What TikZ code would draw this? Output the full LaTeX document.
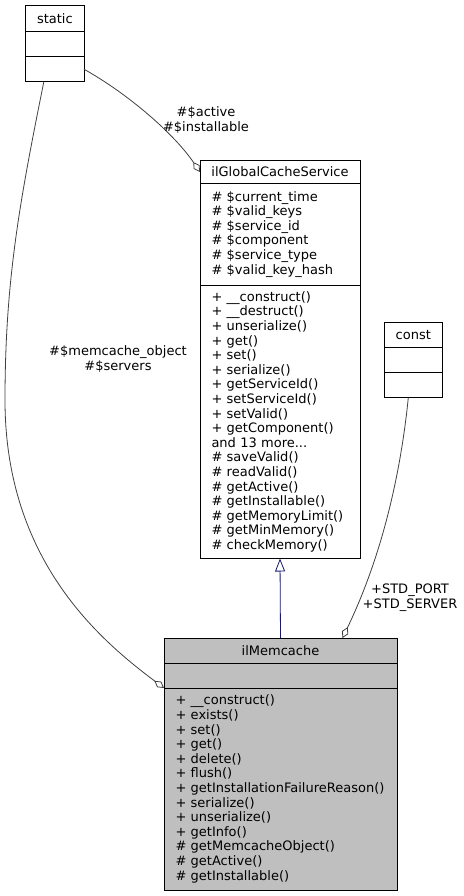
\documentclass[tikz,border=0pt]{standalone}
\usepackage{fontspec}
\setmainfont{DejaVu Sans}
\usetikzlibrary{positioning,arrows.meta}
\definecolor{edgegray}{HTML}{404040}
\definecolor{inhblue}{HTML}{191970}
\definecolor{memgray}{HTML}{BFBFBF}

\begin{document}
\begin{tikzpicture}[
    x=1pt, y=-1pt,
    every node/.style={font=\fontsize{13}{14.6}\selectfont, inner sep=0pt, outer sep=0pt},
    clsname/.style={draw, line width=0.9pt, align=center},
    clspart/.style={draw, line width=0.9pt, align=left, inner xsep=11.5pt},
    agg/.style={draw=edgegray, line width=0.8pt, -{Diamond[open,length=12pt,width=7pt]}},
    inh/.style={draw=inhblue, line width=0.8pt, -{Triangle[open,length=13pt,width=10pt]}}
]
    \useasboundingbox (0,0) rectangle (463,896);

    % static
    \node[clsname, minimum width=58.3pt, minimum height=26pt] (staticTitle) at (54.85,18.7) {static};
    \node[clspart, minimum width=58.3pt, minimum height=25pt, below=0pt of staticTitle] (staticAttr) {};
    \node[clspart, minimum width=58.3pt, minimum height=25pt, below=0pt of staticAttr] (staticMeth) {};

    % const
    \node[clsname, minimum width=58pt, minimum height=25pt] (constTitle) at (413.3,334.8) {const};
    \node[clspart, minimum width=58pt, minimum height=25.4pt, below=0pt of constTitle] (constAttr) {};
    \node[clspart, minimum width=58pt, minimum height=25pt, below=0pt of constAttr] (constMeth) {};

    % ilGlobalCacheService
    \node[clsname, minimum width=160pt, minimum height=23pt] (gcsTitle) at (280,172) {ilGlobalCacheService};
    \node[clspart, minimum width=160pt, minimum height=101.5pt, text width=137pt, below=0pt of gcsTitle] (gcsAttr)
        {\# \$current\_time\\\# \$valid\_keys\\\# \$service\_id\\\# \$component\\\# \$service\_type\\\# \$valid\_key\_hash};
    \node[clspart, minimum width=160pt, minimum height=273.5pt, text width=137pt, below=0pt of gcsAttr] (gcsMeth)
        {+ \_\_construct()\\+ \_\_destruct()\\+ unserialize()\\+ get()\\+ set()\\+ serialize()\\+ getServiceId()\\+ setServiceId()\\+ setValid()\\+ getComponent()\\and 13 more...\\\# saveValid()\\\# readValid()\\\# getActive()\\\# getInstallable()\\\# getMemoryLimit()\\\# getMinMemory()\\\# checkMemory()};

    % ilMemcache
    \node[clsname, fill=memgray, minimum width=233pt, minimum height=25pt] (memTitle) at (280.5,650.5) {ilMemcache};
    \node[clspart, fill=memgray, minimum width=233pt, minimum height=25pt, below=0pt of memTitle] (memAttr) {};
    \node[clspart, fill=memgray, minimum width=233pt, minimum height=202pt, text width=210pt, below=0pt of memAttr] (memMeth)
        {+ \_\_construct()\\+ exists()\\+ set()\\+ get()\\+ delete()\\+ flush()\\+ getInstallationFailureReason()\\+ serialize()\\+ unserialize()\\+ getInfo()\\\# getMemcacheObject()\\\# getActive()\\\# getInstallable()};

    % relations
    \draw[inh] (memTitle.north) -- (gcsMeth.south);
    \draw[agg] (staticMeth.east) .. controls (130,95) and (175,135) .. (gcsTitle.west);
    \draw[agg] ([xshift=-11pt]staticMeth.south) .. controls (20,200) and (5,280) .. (5,400)
        .. controls (5,560) and (100,640) .. (memAttr.south west);
    \draw[agg] ([xshift=-5pt]constMeth.south) .. controls (400,480) and (380,560) .. ([xshift=62pt]memTitle.north);

    \node[align=center] (activeLbl) at (206,120) {\#\$active\\\#\$installable};
    \node[align=center] (memcacheLbl) at (118,359) {\#\$memcache\_object\\\#\$servers};
    \node[align=center] (stdLbl) at (410,598) {+STD\_PORT\\+STD\_SERVER};
\end{tikzpicture}
\end{document}
